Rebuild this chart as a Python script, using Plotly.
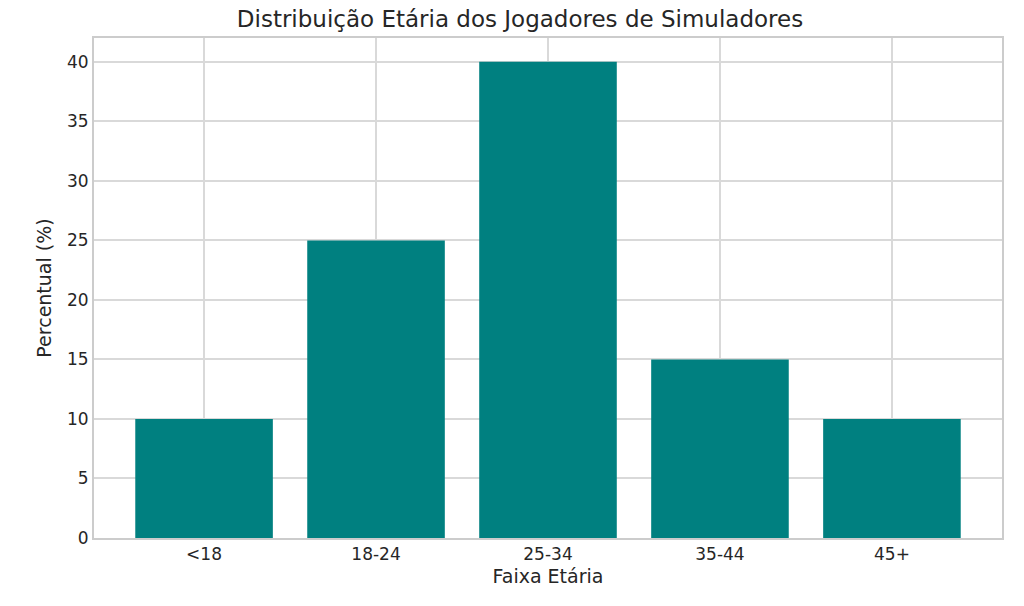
import plotly.graph_objects as go

faixas = ["<18", "18-24", "25-34", "35-44", "45+"]
percentuais = [10, 25, 40, 15, 10]

fig = go.Figure(go.Bar(x=faixas, y=percentuais, marker_color="#008080",
                       marker_line_width=0, width=0.8))

fig.update_layout(
    width=1024, height=606,
    margin=dict(l=86, r=30, t=30, b=76),
    plot_bgcolor="white", paper_bgcolor="white",
    font=dict(family="DejaVu Sans", color="#262626", size=17),
    title=dict(text="Distribuição Etária dos Jogadores de Simuladores",
               x=0.5, xanchor="center", y=0.995, yanchor="top",
               font=dict(size=23)),
    bargap=0.2,
)
axis = dict(showline=True, linecolor="#cccccc", linewidth=1.8, mirror=True,
            showgrid=True, gridcolor="#d9d9d9", gridwidth=1.5, ticks="",
            zeroline=False, title_font=dict(size=19))
fig.update_xaxes(**axis, title_text="Faixa Etária", range=[-0.64, 4.64],
                 title_standoff=6)
fig.update_yaxes(**axis, title_text="Percentual (%)", range=[0, 42],
                 dtick=5, title_standoff=10)

fig.write_html("out.html")
